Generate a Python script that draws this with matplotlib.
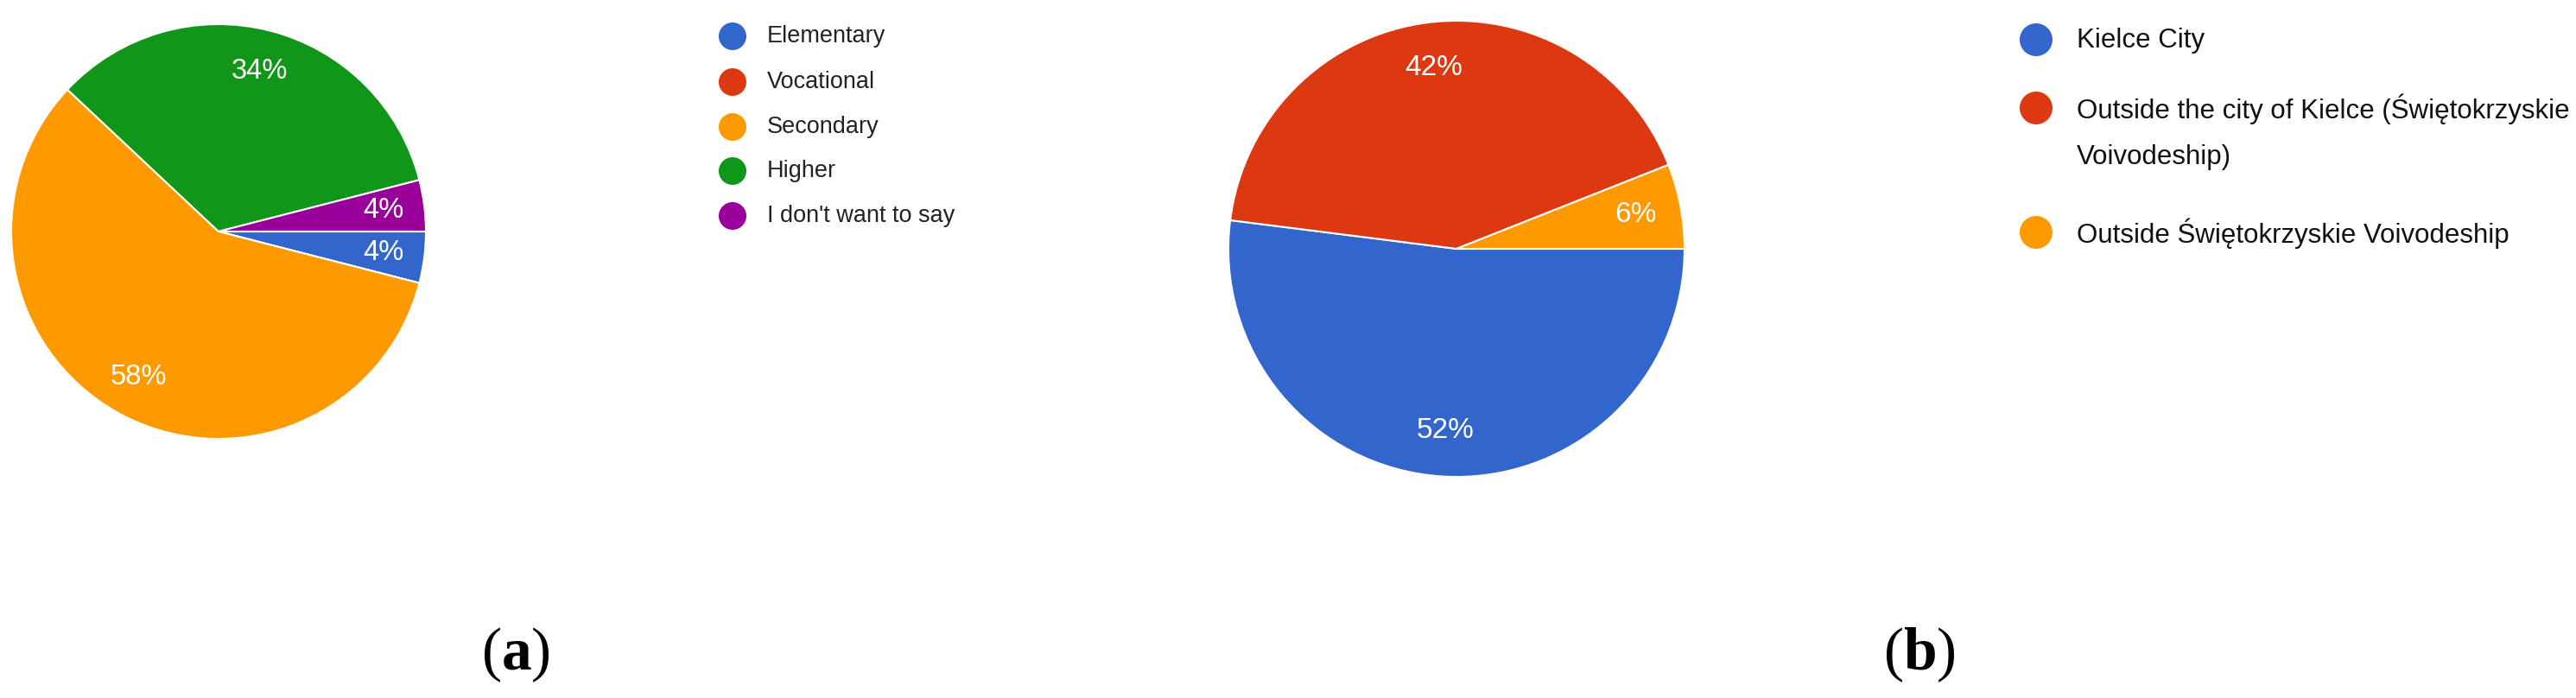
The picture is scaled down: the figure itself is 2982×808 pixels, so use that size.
import matplotlib
matplotlib.use('Agg')
import matplotlib.pyplot as plt
from matplotlib.patches import Circle

W, H = 2982, 808
DPI = 100

# ---- data ----
edu_labels = ['Elementary', 'Vocational', 'Secondary', 'Higher', "I don't want to say"]
edu_values = [4, 0, 58, 34, 4]
edu_colors = ['#3366cc', '#dc3912', '#ff9900', '#109618', '#990099']

res_labels = ['Kielce City',
              'Outside the city of Kielce (Świętokrzyskie\nVoivodeship)',
              'Outside Świętokrzyskie Voivodeship']
res_values = [52, 42, 6]
res_colors = ['#3366cc', '#dc3912', '#ff9900']

panel_labels = ['a', 'b']

plt.rcParams['mathtext.fontset'] = 'custom'
plt.rcParams['mathtext.rm'] = 'Liberation Serif'
plt.rcParams['mathtext.bf'] = 'Liberation Serif:bold'

fig = plt.figure(figsize=(W / DPI, H / DPI), dpi=DPI)
fig.patch.set_facecolor('white')


def px_axes(cx, cy, r):
    return fig.add_axes([(cx - r) / W, (H - cy - r) / H, 2 * r / W, 2 * r / H])


def draw_pie(ax, values, colors, fs):
    ax.pie(values, colors=colors, startangle=0, counterclock=False,
           autopct=lambda p: f'{p:.0f}%' if p > 0 else '',
           pctdistance=0.8, radius=1,
           wedgeprops=dict(edgecolor='white', linewidth=1.5),
           textprops=dict(color='white', fontsize=fs, family='Liberation Sans'))
    ax.set_xlim(-1, 1)
    ax.set_ylim(-1, 1)
    ax.set_aspect('equal')
    ax.axis('off')


ax1 = px_axes(253, 268, 240)
draw_pie(ax1, edu_values, edu_colors, 23.5)

ax2 = px_axes(1686, 288, 264)
draw_pie(ax2, res_values, res_colors, 24)

# overlay in pixel coordinates
ov = fig.add_axes([0, 0, 1, 1])
ov.set_xlim(0, W)
ov.set_ylim(H, 0)
ov.axis('off')

renderer = fig.canvas.get_renderer()

# left legend
left_rows = [42, 95, 147, 198, 250]
for lab, col, y in zip(edu_labels, edu_colors, left_rows):
    ov.add_patch(Circle((848, y), 16, color=col, lw=0))
    ov.text(888, y, lab, fontsize=19.5, family='Liberation Sans',
            color='#222222', va='center', ha='left')

# right legend (narrow font if available, width fitted to the reference)
right_family = ['Liberation Sans Narrow', 'Liberation Sans']
probe = ov.text(0, 0, res_labels[1].split('\n')[0], fontsize=22,
                family=right_family)
wpx = probe.get_window_extent(renderer).width
probe.remove()
right_fs = 22 * 567.0 / wpx

right_rows = [47, 126, 270]
line_gap = 56
for lab, col, y in zip(res_labels, res_colors, right_rows):
    ov.add_patch(Circle((2357, y - 1), 19, color=col, lw=0))
    for k, line in enumerate(lab.split('\n')):
        ov.text(2404, y + k * line_gap, line, fontsize=right_fs,
                family=right_family, color='#111111', va='center', ha='left')

# panel labels
for lab, x in zip(panel_labels, [597, 2222]):
    ov.text(x, 758, r'$\mathrm{(}\mathbf{' + lab + r'}\mathrm{)}$',
            fontsize=50, ha='center', va='center', color='black')

fig.savefig('out.png', dpi=DPI, facecolor='white')
